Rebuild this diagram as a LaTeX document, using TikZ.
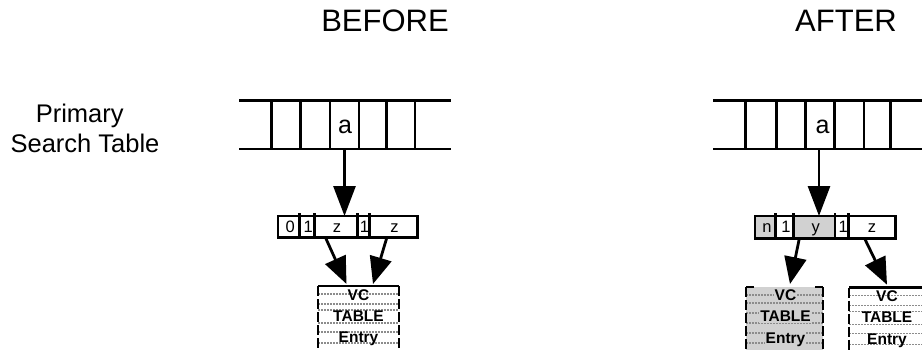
\documentclass[tikz,border=0pt]{standalone}
\usepackage{fontspec}
\setmainfont{Liberation Sans}
\usetikzlibrary{arrows.meta,calc}
\begin{document}
\begin{tikzpicture}[x=1pt,y=-1pt,
  tline/.style={line width=2.8pt},
  rcell/.style={draw, line width=2.8pt, inner sep=0pt, outer sep=0pt, text height=11.5pt, text depth=0pt, font=\fontsize{16.5}{16.5}\selectfont},
  shaded/.style={fill=black!18},
  bigarrow/.style={line width=2.8pt, -{Triangle[length=30pt,width=22pt]}},
  slarrow/.style={line width=2.8pt, -{Triangle[length=27pt,width=22pt]}},
  vcbox/.style={inner sep=0pt, outer sep=0pt, minimum width=#1, minimum height=72pt},
  sepline/.style={black!45, line width=1.2pt, dash pattern=on 2pt off 1pt},
  sideline/.style={line width=2.8pt, dash pattern=on 10pt off 3pt},
  vctext/.style={font=\bfseries\fontsize{15.5}{15.5}\selectfont, anchor=base, inner sep=1pt},
  headtext/.style={font=\fontsize{31}{31}\selectfont},
  labeltext/.style={font=\fontsize{25.5}{25.5}\selectfont, anchor=base},
  tabtext/.style={font=\fontsize{25}{25}\selectfont},
  tcell/.style={minimum width=29pt, minimum height=48.3pt, inner sep=0pt, outer sep=0pt},
]
\useasboundingbox (0,0) rectangle (922,349);
\clip (0,0) rectangle (922,349);

% headings
\node[headtext] (hbefore) at (385,21) {BEFORE};
\node[headtext] (hafter) at (846,21) {AFTER};
\node[labeltext] (lab1) at (79.7,122.3) {Primary};
\node[labeltext] (lab2) at (85,152.3) {Search Table};

% ---------- BEFORE ----------
\draw[tline] (239,100.7) -- (451,100.7);
\draw[tline] (239,149) -- (451,149);
\foreach \x in {271.5,300.5,330,359,386.5,415} \draw[tline] (\x,100.7) -- (\x,149);
\node[tcell] (tb) at (344.5,124.85) {};
\node[tabtext] (tbtxt) at (345,127.3) {a};

\node[rcell, minimum width=21.3pt, minimum height=21.7pt] (b1) at (288.65,226.85) {\hspace{3pt}0};
\node[rcell, minimum width=15pt, minimum height=21.7pt] (b2) at (306.8,226.85) {\hspace{3pt}1};
\node[rcell, minimum width=43.4pt, minimum height=21.7pt] (b3) at (336,226.85) {\hspace{2pt}z};
\node[rcell, minimum width=11.6pt, minimum height=21.7pt] (b4) at (363.5,226.85) {\hspace{2pt}1};
\node[rcell, minimum width=48.4pt, minimum height=21.7pt] (b5) at (393.5,226.85) {\hspace{2pt}z};
\foreach \n in {b2,b3,b4,b5} \draw[tline] (\n.north west) -- ++(0,-3.5);

\draw[bigarrow] (tb.south) -- (tb.south |- b3.north);

\node[vcbox=81pt, anchor=north west] (vcb) at (318,286) {};
\foreach \d in {8,18,24,37,46,57}
  \draw[sepline] ($(vcb.north west)+(0,\d)$) -- ($(vcb.north east)+(0,\d)$);
\draw[tline] (vcb.north west) -- (vcb.north east);
\draw[sideline] (vcb.north west) -- (vcb.south west);
\draw[sideline] (vcb.north east) -- (vcb.south east);
\node[vctext] (vcb1) at ($(vcb.north)+(0,14.5)$) {VC};
\node[vctext] (vcb2) at ($(vcb.north)+(0,35.5)$) {TABLE};
\node[vctext] (vcb3) at ($(vcb.north)+(0,56.5)$) {Entry};

\draw[slarrow] ($(b3.south)+(-10,1)$) -- ($(vcb.north west)+(28.5,-2)$);
\draw[slarrow] ($(b5.south)+(-7,1)$) -- ($(vcb.north west)+(55,-2)$);

% ---------- AFTER ----------
\draw[tline] (713,100.7) -- (930,100.7);
\draw[tline] (713,149) -- (930,149);
\foreach \x in {745.7,776.7,805.7,834.3,864,890.7} \draw[tline] (\x,100.7) -- (\x,149);
\node[tcell] (ta) at (819,124.85) {};
\node[tabtext] (tatxt) at (822.5,127.3) {a};

\node[rcell, shaded, minimum width=20.7pt, minimum height=22.3pt] (a1) at (765.35,227.15) {\hspace{3pt}n};
\node[rcell, minimum width=17.6pt, minimum height=22.3pt] (a2) at (784.5,227.15) {\hspace{3pt}1};
\node[rcell, shaded, minimum width=41.7pt, minimum height=22.3pt] (a3) at (814.15,227.15) {\hspace{3pt}y};
\node[rcell, minimum width=13.3pt, minimum height=22.3pt] (a4) at (841.65,227.15) {\hspace{3pt}1};
\node[rcell, minimum width=47.4pt, minimum height=22.3pt] (a5) at (872,227.15) {z};
\foreach \n in {a2,a3,a4,a5} \draw[tline] (\n.north west) -- ++(0,-3.5);

\draw[bigarrow] (ta.south) -- (ta.south |- a3.north);

% shaded VC box
\node[vcbox=77pt, anchor=north west, shaded] (vca) at (746,287) {};
\foreach \d in {8,16,26,36,46,56}
  \draw[sepline] ($(vca.north west)+(0,\d)$) -- ($(vca.north east)+(0,\d)$);
\draw[tline] (vca.north west) -- ++(8,0);
\draw[tline] (vca.north east) -- ++(-8,0);
\draw[sideline] (vca.north west) -- (vca.south west);
\draw[sideline] (vca.north east) -- (vca.south east);
\node[vctext, shaded] (vca1) at ($(vca.north)+(1,13.5)$) {VC};
\node[vctext, shaded] (vca2) at ($(vca.north)+(1,34.5)$) {TABLE};
\node[vctext, shaded] (vca3) at ($(vca.north)+(1,56.5)$) {Entry};

% plain VC box
\node[vcbox=76pt, anchor=north west] (vcc) at (849,287.7) {};
\foreach \d in {8,18,24,37,46,57}
  \draw[sepline] ($(vcc.north west)+(0,\d)$) -- ($(vcc.north east)+(0,\d)$);
\draw[tline] (vcc.north west) -- (vcc.north east);
\draw[sideline] (vcc.north west) -- (vcc.south west);
\draw[sideline] (vcc.north east) -- (vcc.south east);
\node[vctext] (vcc1) at ($(vcc.north)+(0,13.5)$) {VC};
\node[vctext] (vcc2) at ($(vcc.north)+(0,34.5)$) {TABLE};
\node[vctext] (vcc3) at ($(vcc.north)+(0,56.5)$) {Entry};

\draw[slarrow] ($(a3.south)+(-15,1)$) -- ($(vca.north west)+(44,-3)$);
\draw[slarrow] ($(a5.south)+(-7,1)$) -- ($(vcc.north west)+(38,-3)$);
\end{tikzpicture}
\end{document}
